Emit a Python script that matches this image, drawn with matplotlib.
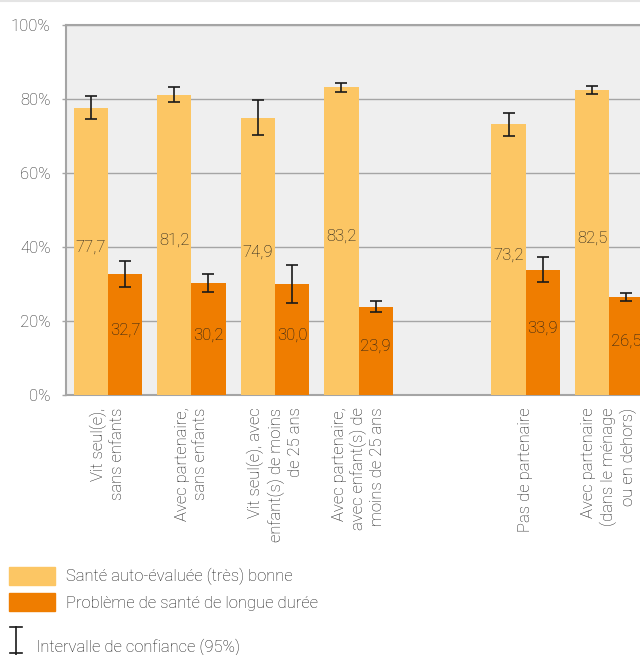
import matplotlib
matplotlib.use("Agg")
import matplotlib.pyplot as plt
from matplotlib.patches import Patch
from matplotlib.lines import Line2D
import numpy as np

plt.rcParams['font.family'] = ['Roboto', 'DejaVu Sans']
plt.rcParams['font.weight'] = 'light'

# --- données ---
categories = [
    "Vit seul(e),\nsans enfants",
    "Avec partenaire,\nsans enfants",
    "Vit seul(e), avec\nenfant(s) de moins\nde 25 ans",
    "Avec partenaire,\navec enfant(s) de\nmoins de 25 ans",
    "Pas de partenaire",
    "Avec partenaire\n(dans le ménage\nou en dehors)",
]
sante_bonne = [77.7, 81.2, 74.9, 83.2, 73.2, 82.5]
sante_bonne_ic = [3.0, 2.1, 4.7, 1.2, 3.1, 1.1]
probleme_sante = [32.7, 30.2, 30.0, 23.9, 33.9, 26.5]
probleme_sante_ic = [3.4, 2.4, 5.1, 1.4, 3.3, 1.2]
yticks = [0, 20, 40, 60, 80, 100]

light = "#FCC664"
dark = "#EF7D00"
grey = "#A5A5A5"
txt = "#1A1A1A"
fs = 12

W, H = 640, 655
fig = plt.figure(figsize=(W / 100, H / 100), dpi=100)

# axes débordant à droite comme dans l'original
ax = fig.add_axes([66 / W, (H - 395) / H, (651 - 66) / W, (395 - 25) / H])
ax.set_facecolor("#EFEFEF")

# groupe vide entre les deux blocs
x = np.arange(len(categories)) + (np.arange(len(categories)) >= 4)
bw = 0.41

err_kw = dict(ecolor="#1A1A1A", elinewidth=1.2, capsize=4.5, capthick=1.2)
ax.bar(x - bw / 2, sante_bonne, bw, color=light, yerr=sante_bonne_ic,
       error_kw=err_kw, zorder=3)
ax.bar(x + bw / 2, probleme_sante, bw, color=dark, yerr=probleme_sante_ic,
       error_kw=err_kw, zorder=3)

for xs, vals in [(x - bw / 2, sante_bonne), (x + bw / 2, probleme_sante)]:
    for xi, v in zip(xs, vals):
        ax.text(xi, v / 2, f"{v:.1f}".replace(".", ","), ha="center", va="baseline",
                fontsize=fs, color=txt, zorder=4)

ax.set_xlim(-0.5, 6.5)
ax.set_ylim(0, 100)
ax.set_yticks(yticks)
ax.set_yticklabels([f"{t}%" for t in yticks])
ax.yaxis.grid(True, color=grey, lw=1.0, zorder=0)
ax.set_axisbelow(True)
ax.tick_params(axis="y", length=3, color=grey, width=1.0, pad=8, labelsize=fs, labelcolor="#2A2A2A")

ax.set_xticks(x)
ax.set_xticklabels(categories, rotation=90, ha="center", va="top", multialignment="right",
                   fontsize=fs, color=txt, linespacing=1.25)
ax.tick_params(axis="x", length=0, pad=9)

for s in ["left", "top", "bottom"]:
    ax.spines[s].set_color(grey)
    ax.spines[s].set_linewidth(1.5)
ax.spines["right"].set_visible(False)

# ligne fine en haut de la figure
fig.add_artist(Line2D([0, 1], [1 - 1 / H, 1 - 1 / H], transform=fig.transFigure,
                      color="#E4E4E4", lw=1.5))

# légende
handles = [Patch(color=light), Patch(color=dark)]
labels = ["Santé auto-évaluée (très) bonne", "Problème de santé de longue durée"]
fig.legend(handles, labels, loc="upper left", bbox_to_anchor=(9 / W, 1 - 567 / H),
           frameon=False, borderpad=0, borderaxespad=0, fontsize=fs,
           handlelength=2.75, handleheight=1.25, labelspacing=0.47, handletextpad=0.66,
           labelcolor=txt)

# symbole intervalle de confiance
def px(xp, yp):
    return xp / W, 1 - yp / H

cx = 16
for xs_, ys_ in [([cx, cx], [627, 655]), ([cx - 6, cx + 6], [627, 627]), ([cx - 6, cx + 6], [653, 653])]:
    p0 = px(xs_[0], ys_[0])
    p1 = px(xs_[1], ys_[1])
    fig.add_artist(Line2D([p0[0], p1[0]], [p0[1], p1[1]], transform=fig.transFigure,
                          color="#1A1A1A", lw=1.2))
fig.text(36 / W, 1 - 647 / H, "Intervalle de confiance (95%)", ha="left", va="center",
         fontsize=fs, color=txt)

fig.savefig("out.png", dpi=100)
